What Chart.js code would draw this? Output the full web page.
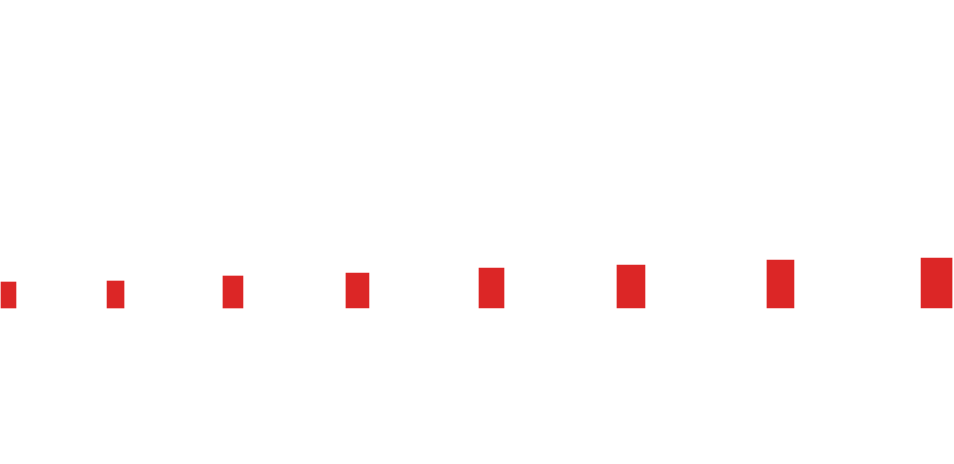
<!DOCTYPE html>
<html>
<head>
<meta charset="utf-8">
<script src="https://cdn.jsdelivr.net/npm/chart.js@4/dist/chart.umd.min.js"></script>
<style>
html,body{margin:0;padding:0;background:#fff;}
#wrap{width:954px;height:464px;position:relative;}
</style>
</head>
<body>
<div id="wrap"><canvas id="c"></canvas></div>
<script>
// positions along the horizontal value axis (0..100)
const xValues = [0.89, 12.11, 24.42, 37.47, 51.52, 66.14, 81.81, 98.17];
// bar values
const values = [2.6, 2.7, 3.2, 3.5, 4.0, 4.3, 4.8, 5.0];
// bar thickness (style, px)
const barWidths = [15, 17, 20, 23, 25, 28, 27, 31];
const barColor = '#dc2626';

const datasets = values.map((v, i) => ({
  data: [{x: xValues[i], y: v}],
  backgroundColor: barColor,
  borderWidth: 0,
  barThickness: barWidths[i],
  grouped: false
}));

new Chart(document.getElementById('c'), {
  type: 'bar',
  data: {datasets},
  options: {
    responsive: true,
    maintainAspectRatio: false,
    animation: false,
    devicePixelRatio: 1,
    layout: {padding: 0},
    plugins: {legend: {display: false}, tooltip: {enabled: false}},
    scales: {
      x: {type: 'linear', min: 0, max: 100, display: false, offset: false},
      y: {min: -15.6, max: 30.8, display: false}
    }
  }
});
</script>
</body>
</html>
